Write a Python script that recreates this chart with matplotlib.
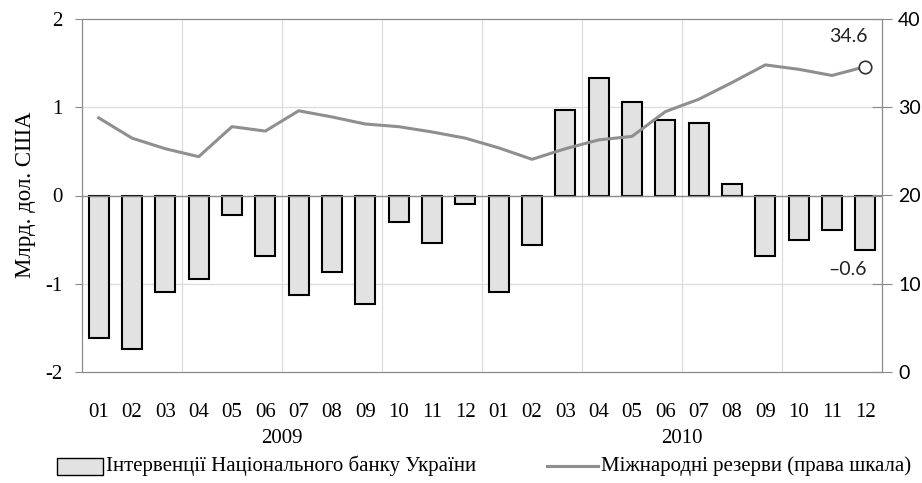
import matplotlib
matplotlib.use("Agg")
import matplotlib.pyplot as plt
from matplotlib.patches import Rectangle
from matplotlib.lines import Line2D
from matplotlib.ticker import FuncFormatter
import numpy as np

months = ["01", "02", "03", "04", "05", "06", "07", "08", "09", "10", "11", "12",
          "01", "02", "03", "04", "05", "06", "07", "08", "09", "10", "11", "12"]
years = ["2009", "2010"]
interventions = [-1.62, -1.74, -1.09, -0.95, -0.22, -0.69, -1.13, -0.87, -1.23, -0.30, -0.54, -0.10,
                 -1.09, -0.56, 0.97, 1.33, 1.06, 0.86, 0.82, 0.13, -0.68, -0.50, -0.39, -0.62]
reserves = [28.8, 26.5, 25.3, 24.4, 27.8, 27.3, 29.6, 28.9, 28.1, 27.8, 27.2, 26.5,
            25.4, 24.1, 25.3, 26.3, 26.7, 29.5, 30.9, 32.8, 34.8, 34.3, 33.6, 34.6]
label_bars = "Інтервенції Національного банку України"
label_line = "Міжнародні резерви (права шкала)"
ylabel = "Млрд. дол. США"

serif = ["Liberation Serif", "DejaVu Serif"]
sans = ["Lato", "DejaVu Sans"]

W, H = 922, 483
fig = plt.figure(figsize=(W / 100, H / 100), dpi=100)
x0, x1, yt, yb = 82, 882, 19, 372
ax = fig.add_axes([x0 / W, 1 - yb / H, (x1 - x0) / W, (yb - yt) / H])
ax2 = ax.twinx()

x = np.arange(len(interventions))
ax.bar(x, interventions, width=0.6, color="#e2e2e2", edgecolor="black", linewidth=1.5, zorder=3)
ax.set_xlim(-0.5, len(interventions) - 0.5)
ax.set_ylim(-2, 2)
ax.set_yticks([-2, -1, 0, 1, 2])
ax.yaxis.set_major_formatter(FuncFormatter(lambda v, p: f"{int(v)}"))
ax.set_xticks(x)
ax.set_xticklabels(months)

# grid
for gx in np.arange(2.5, len(interventions) - 1, 3):
    ax.axvline(gx, color="#dcdcdc", lw=0.9, zorder=0)
for gy in [-1, 1]:
    ax.axhline(gy, color="#dcdcdc", lw=0.9, zorder=0)
ax.axhline(0, color="#8a8a8a", lw=1.0, zorder=4)

ax2.plot(x, reserves, color="#8f8f8f", lw=2.2, zorder=5)
ax2.plot(x[-1], reserves[-1], marker="o", ms=9, mfc="white", mec="#333333", mew=1.2, zorder=6)
ax2.set_ylim(0, 40)
ax2.set_yticks([0, 10, 20, 30, 40])

for sp in ["left", "right", "top", "bottom"]:
    ax.spines[sp].set_color("#8a8a8a")
    ax2.spines[sp].set_color("#8a8a8a")

ax.tick_params(axis="y", direction="out", length=5, color="#8a8a8a", pad=9, labelsize=15)
ax.tick_params(axis="x", length=0, pad=22, labelsize=15)
ax2.tick_params(axis="y", direction="inout", length=15, color="#8a8a8a", pad=4, labelsize=14)
for lab in ax.get_yticklabels() + ax.get_xticklabels():
    lab.set_family(serif)
for lab in ax2.get_yticklabels():
    lab.set_family(sans)

fig.text(25 / W, 1 - 195 / H, ylabel, rotation=90, ha="center", va="center", fontsize=16.5, family=serif)

# year labels
ax.text(5.5, -2.75, years[0], ha="center", va="center", fontsize=15, family=serif)
ax.text(17.5, -2.75, years[1], ha="center", va="center", fontsize=15, family=serif)

# annotations
ax2.annotate(f"{reserves[-1]:.1f}", (x[-1], reserves[-1]), xytext=(-12, 22), textcoords="offset points",
             ha="center", va="center", fontsize=14, family=sans, color="#222222")
ax.annotate(f"\u2013{abs(interventions[-1]):.1f}", (x[-1], interventions[-1]), xytext=(-13, -14),
            textcoords="offset points", ha="center", va="center", fontsize=14, family=sans, color="#222222")

# legend
fig.patches.append(Rectangle((57 / W, 1 - 475 / H), 46 / W, 17 / H, transform=fig.transFigure,
                             facecolor="#e2e2e2", edgecolor="black", linewidth=1.0))
fig.text(106 / W, 1 - 466 / H, label_bars, ha="left", va="center", fontsize=15, family=serif)
fig.lines.append(Line2D([547 / W, 598 / W], [1 - 466 / H, 1 - 466 / H], transform=fig.transFigure,
                        color="#8f8f8f", lw=2.2))
fig.text(601 / W, 1 - 466 / H, label_line, ha="left", va="center", fontsize=15, family=serif)

fig.savefig("out.png", dpi=100)
